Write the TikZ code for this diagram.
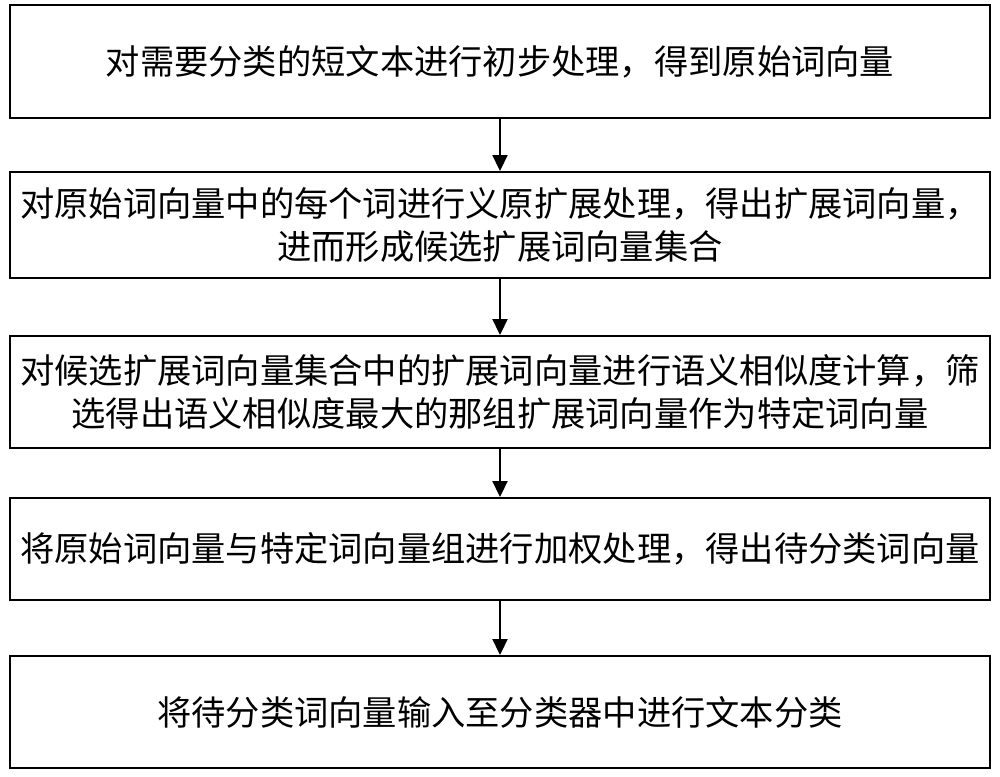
\documentclass[tikz,border=0pt]{standalone}
\usepackage{fontspec}
\setmainfont{Noto Sans CJK SC}
\usetikzlibrary{positioning,arrows.meta}
\tikzstyle{stepbox} = [rectangle, draw, line width=1.1pt, minimum width=19.6cm, text width=19.4cm, align=center, inner sep=0pt, font=\fontsize{19.5}{24}\selectfont]
\tikzstyle{flow} = [draw, line width=1.1pt, -{Triangle[length=0.32cm,width=0.3cm]}]

\begin{document}
\begin{tikzpicture}
	\useasboundingbox (0,0) rectangle (20,-15.52);
	% place nodes
	\node [stepbox, minimum height=2.26cm] (S1) at (10,-1.23) {对需要分类的短文本进行初步处理，得到原始词向量};
	\node [stepbox, minimum height=2.12cm] (S2) at (10,-4.50) {对原始词向量中的每个词进行义原扩展处理，得出扩展词向量，\\进而形成候选扩展词向量集合};
	\node [stepbox, minimum height=2.24cm] (S3) at (10,-7.84) {对候选扩展词向量集合中的扩展词向量进行语义相似度计算，筛\\选得出语义相似度最大的那组扩展词向量作为特定词向量};
	\node [stepbox, minimum height=2.04cm] (S4) at (10,-10.98) {将原始词向量与特定词向量组进行加权处理，得出待分类词向量};
	\node [stepbox, minimum height=2.24cm] (S5) at (10,-14.24) {将待分类词向量输入至分类器中进行文本分类};

	% draw edges
	\path [flow] (S1) -- (S2);
	\path [flow] (S2) -- (S3);
	\path [flow] (S3) -- (S4);
	\path [flow] (S4) -- (S5);
\end{tikzpicture}
\end{document}
